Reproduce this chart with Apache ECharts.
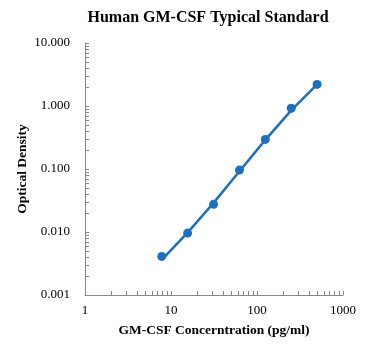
<!DOCTYPE html>
<html>
<head>
<meta charset="utf-8">
<script src="https://cdn.jsdelivr.net/npm/echarts@6/dist/echarts.min.js"></script>
<style>
html, body { margin: 0; padding: 0; background: #fff; }
#chart { width: 370px; height: 351px; }
</style>
</head>
<body>
<div id="chart"></div>
<script>
// standard concentrations (pg/ml) and optical density
var conc = [7.8, 15.6, 31.25, 62.5, 125, 250, 500];
var od = [0.0041, 0.0096, 0.0275, 0.096, 0.295, 0.92, 2.2];
// fitted curve as it appears in the picture
var fitOd = [0.0036, 0.0098, 0.029, 0.092, 0.29, 0.85, 2.2];

var xTicks = [];
var yTicks = [];
[1, 10, 100].forEach(function (d) {
	for (var k = 1; k < 10; k++) xTicks.push(k * d);
});
xTicks.push(1000);
[0.001, 0.01, 0.1, 1].forEach(function (d) {
	for (var k = 1; k < 10; k++) yTicks.push(+(k * d).toPrecision(3));
});
yTicks.push(10);

var font = '"Liberation Serif", "Times New Roman", serif';
var blue = '#1f6fc0';

var chart = echarts.init(document.getElementById("chart"));
var option = {
	animation: false,
	title: {
		text: 'Human GM-CSF Typical Standard',
		left: 203,
		textAlign: 'center',
		top: 5,
		textStyle: { fontFamily: font, fontSize: 16, fontWeight: 'bold', color: '#000' }
	},
	grid: { left: 85, right: 27, top: 43, bottom: 56 },
	xAxis: {
		type: 'log',
		logBase: 10,
		min: 1,
		max: 1000,
		name: 'GM-CSF Concerntration (pg/ml)',
		nameLocation: 'middle',
		nameGap: 29,
		nameTextStyle: { fontFamily: font, fontSize: 13.5, fontWeight: 'bold', color: '#000' },
		axisLine: { lineStyle: { color: '#888', width: 1 } },
		axisTick: { inside: true, length: 4, customValues: xTicks, lineStyle: { color: '#888' } },
		axisLabel: {
			fontFamily: font, fontSize: 13, color: '#000', margin: 9,
			formatter: function (v) { return String(v); }
		},
		splitLine: { show: false }
	},
	yAxis: {
		type: 'log',
		logBase: 10,
		min: 0.001,
		max: 10,
		name: 'Optical Density',
		nameLocation: 'middle',
		nameGap: 55,
		nameMoveOverlap: false,
		nameTextStyle: { fontFamily: font, fontSize: 13.5, fontWeight: 'bold', color: '#000' },
		axisLine: { show: true, lineStyle: { color: '#888', width: 1 } },
		axisTick: { show: true, inside: true, length: 4, customValues: yTicks, lineStyle: { color: '#888' } },
		axisLabel: {
			fontFamily: font, fontSize: 13, color: '#000', margin: 15,
			formatter: function (v) { return v.toFixed(3); }
		},
		splitLine: { show: false }
	},
	series: [
		{
			type: 'line',
			data: conc.map(function (c, i) { return [c, fitOd[i]]; }),
			showSymbol: false,
			lineStyle: { color: blue, width: 2.5 }
		},
		{
			type: 'scatter',
			data: conc.map(function (c, i) { return [c, od[i]]; }),
			symbolSize: 9,
			itemStyle: { color: blue, opacity: 1 }
		}
	]
};
chart.setOption(option);
</script>
</body>
</html>
